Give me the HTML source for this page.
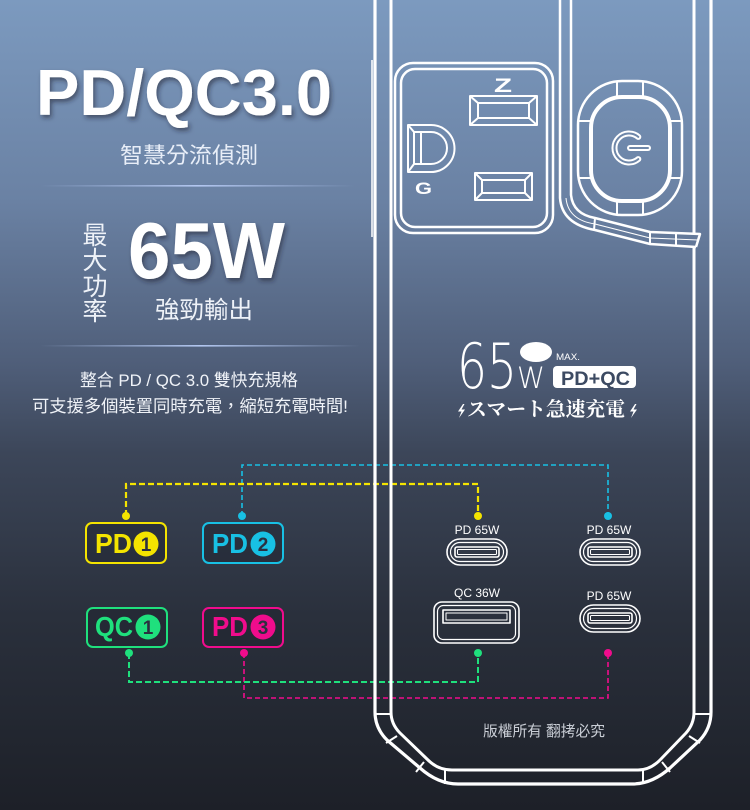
<!DOCTYPE html>
<html><head><meta charset="utf-8">
<style>
html,body{margin:0;padding:0}
body{width:750px;height:810px;overflow:hidden;background:#3c4659}
svg{display:block}
.cjk{font-family:"Liberation Sans","Noto Sans CJK TC",sans-serif}
</style></head><body>
<svg width="750" height="810" viewBox="0 0 750 810" xmlns="http://www.w3.org/2000/svg">
<defs>
<linearGradient id="bg" x1="0" y1="0" x2="0" y2="1">
<stop offset="0" stop-color="#7c9abf"/>
<stop offset="0.25" stop-color="#6a81a3"/>
<stop offset="0.45" stop-color="#4f5e79"/>
<stop offset="0.56" stop-color="#3c4659"/>
<stop offset="0.76" stop-color="#2a303c"/>
<stop offset="1" stop-color="#1d2028"/>
</linearGradient>
<linearGradient id="ln" x1="0" x2="1">
<stop offset="0" stop-color="#a8bde8" stop-opacity="0"/>
<stop offset="0.5" stop-color="#b3c7f0"/>
<stop offset="1" stop-color="#a8bde8" stop-opacity="0"/>
</linearGradient>
<filter id="sh" x="-10%" y="-20%" width="130%" height="150%"><feDropShadow dx="2" dy="3" stdDeviation="2.5" flood-color="#1a2333" flood-opacity="0.55"/></filter>
</defs>
<rect width="750" height="810" fill="url(#bg)"/>

<!-- left text -->
<text x="36" y="115" font-family="Liberation Sans, sans-serif" font-weight="700" font-size="65" fill="#fff" textLength="296" lengthAdjust="spacingAndGlyphs" filter="url(#sh)">PD/QC3.0</text>
<text x="120" y="163" class="cjk" font-size="22" fill="#e8eef8" textLength="138" lengthAdjust="spacingAndGlyphs">智慧分流偵測</text>
<rect x="40" y="185" width="315" height="1.6" fill="url(#ln)"/>

<g class="cjk" font-size="25" fill="#eef2f8" text-anchor="middle">
<text x="95" y="244">最</text>
<text x="95" y="269">大</text>
<text x="95" y="295">功</text>
<text x="95" y="320">率</text>
</g>
<text x="128" y="278" font-family="Liberation Sans, sans-serif" font-weight="700" font-size="80" fill="#fff" textLength="157" lengthAdjust="spacingAndGlyphs" filter="url(#sh)">65W</text>
<text x="155" y="318" class="cjk" font-size="24" fill="#eef2f8" textLength="98" lengthAdjust="spacingAndGlyphs">強勁輸出</text>
<rect x="40" y="345" width="320" height="1.6" fill="url(#ln)"/>

<text x="80" y="386" class="cjk" font-size="17" fill="#f0f3f8" textLength="218" lengthAdjust="spacingAndGlyphs">整合 PD / QC 3.0 雙快充規格</text>
<text x="32" y="412" class="cjk" font-size="17" fill="#f0f3f8" textLength="316" lengthAdjust="spacingAndGlyphs">可支援多個裝置同時充電，縮短充電時間!</text>

<!-- dashed connectors -->
<g fill="none">
<path d="M242,516 V465 H608 V516" stroke="#18c0e4" stroke-width="1.6" stroke-dasharray="5 3"/>
<path d="M126,516 V484 H478 V516" stroke="#f4e400" stroke-width="2.2" stroke-dasharray="6 3"/>
<path d="M244,653 V698 H608 V653" stroke="#f00c8c" stroke-width="1.6" stroke-dasharray="5 3"/>
<path d="M129,653 V682 H478 V653" stroke="#1fe07d" stroke-width="2" stroke-dasharray="6 3"/>
</g>
<g>
<circle cx="126" cy="516" r="4" fill="#f4e400"/><circle cx="478" cy="516" r="4" fill="#f4e400"/>
<circle cx="242" cy="516" r="4" fill="#18c0e4"/><circle cx="608" cy="516" r="4" fill="#18c0e4"/>
<circle cx="129" cy="653" r="4" fill="#1fe07d"/><circle cx="478" cy="653" r="4" fill="#1fe07d"/>
<circle cx="244" cy="653" r="4" fill="#f00c8c"/><circle cx="608" cy="653" r="4" fill="#f00c8c"/>
</g>

<!-- badges -->
<g font-family="Liberation Sans, sans-serif" font-weight="700">
<rect x="86" y="523" width="80" height="40" rx="6" fill="rgba(30,35,46,0.45)" stroke="#f4e400" stroke-width="2"/>
<text x="95" y="553" font-size="28" fill="#f4e400" textLength="37" lengthAdjust="spacingAndGlyphs">PD</text>
<circle cx="146" cy="544" r="12.5" fill="#f4e400"/>
<text x="146" y="551" font-size="19" fill="#2b3040" text-anchor="middle">1</text>

<rect x="203" y="523" width="80" height="40" rx="6" fill="rgba(30,35,46,0.45)" stroke="#18c0e4" stroke-width="2"/>
<text x="212" y="553" font-size="28" fill="#18c0e4" textLength="36" lengthAdjust="spacingAndGlyphs">PD</text>
<circle cx="263" cy="544" r="12.5" fill="#18c0e4"/>
<text x="263" y="551" font-size="19" fill="#2b3040" text-anchor="middle">2</text>

<rect x="87" y="608" width="80" height="39" rx="6" fill="rgba(30,35,46,0.45)" stroke="#1fe07d" stroke-width="2"/>
<text x="95" y="636" font-size="28" fill="#1fe07d" textLength="38" lengthAdjust="spacingAndGlyphs">QC</text>
<circle cx="148" cy="627" r="12.5" fill="#1fe07d"/>
<text x="148" y="634" font-size="19" fill="#2b3040" text-anchor="middle">1</text>

<rect x="203" y="608" width="80" height="39" rx="6" fill="rgba(30,35,46,0.45)" stroke="#f00c8c" stroke-width="2"/>
<text x="212" y="636" font-size="28" fill="#f00c8c" textLength="36" lengthAdjust="spacingAndGlyphs">PD</text>
<circle cx="263" cy="627" r="12.5" fill="#f00c8c"/>
<text x="263" y="634" font-size="19" fill="#2b3040" text-anchor="middle">3</text>
</g>

<!-- device outline -->
<g fill="none" stroke="#fff" stroke-linejoin="round">
<path d="M375,0 V712 Q375,728 387,740 L420,768 Q438,784 458,784 H632 Q652,784 670,768 L700,740 Q711,728 711,712 V0" stroke-width="3.2"/>
<path d="M391,0 V712 Q391,724 400,733 L428,760 Q438,770 452,770 H638 Q650,770 660,760 L686,733 Q694,724 694,712 V247" stroke-width="3"/>
<path d="M694,0 V234" stroke-width="3"/>
<path d="M372,60 V237" stroke-width="1.5"/>
<g stroke-width="2">
<path d="M375,714 H391"/><path d="M694,714 H711"/>
<path d="M386,743 L397,736"/><path d="M416,772 L424,762"/>
<path d="M445,770 V784"/><path d="M643,770 V784"/>
<path d="M700,743 L689,736"/><path d="M670,772 L662,762"/>
</g>
<!-- middle band -->
<path d="M560,0 V198 Q562,224 595,230 L650,244 L696,247" stroke-width="2.5"/>
<path d="M571,0 V195 Q573,214 595,218 L650,232 L700,234 L696,247" stroke-width="2.5"/>
<path d="M566,198 Q568,220 595,224 L650,238 L698,240" stroke-width="1"/>
<path d="M595,218 L594,230 M650,232 V244 M676,233 V246" stroke-width="2"/>

<!-- outlet -->
<rect x="395" y="63" width="158" height="170" rx="18" stroke-width="2.5"/>
<rect x="401" y="69" width="146" height="158" rx="14" stroke-width="2.5"/>
<g stroke-width="2">
<rect x="470" y="96" width="67" height="29"/>
<rect x="478" y="103" width="51" height="15"/>
<path d="M470,96 L478,103 M537,96 L529,103 M470,125 L478,118 M537,125 L529,118"/>
<rect x="475" y="173" width="57" height="27"/>
<rect x="482" y="180" width="43" height="13"/>
<path d="M475,173 L482,180 M532,173 L525,180 M475,200 L482,193 M532,200 L525,193"/>
<path d="M408,125 H431 A23.5,23.5 0 0 1 431,172 H408 Z"/>
<path d="M414,132 H431 A16,16 0 0 1 431,164 H414 Z"/>
<path d="M408,125 L414,132 M408,172 L414,164 M421,132 V164"/>
</g>

<!-- power button -->
<rect x="578" y="81" width="104" height="134" rx="44" stroke-width="2.5"/>
<rect x="591" y="97" width="79" height="104" rx="31" stroke-width="4"/>
<path d="M617,81 V96 M643,81 V96 M617,201 V215 M643,201 V215 M578,121 H591 M578,178 H591 M670,121 H682 M670,178 H682" stroke-width="2"/>
<path d="M638.3,136.9 A14.5,14.5 0 1 0 638.3,159.1" stroke-width="6" stroke-linecap="round"/>
<path d="M638.3,136.9 A14.5,14.5 0 1 0 638.3,159.1" stroke="#6f87a9" stroke-width="2" stroke-linecap="round"/>
<path d="M630,148 H648" stroke-width="6" stroke-linecap="round"/>
<path d="M630,148 H648" stroke="#6f87a9" stroke-width="2" stroke-linecap="round"/>

<!-- ports -->
<g stroke-width="1.6">
<rect x="447" y="539" width="60" height="26" rx="13"/>
<rect x="450.5" y="542.5" width="53" height="19" rx="9.5" stroke-width="1.2"/>
<rect x="455" y="547" width="44" height="10" rx="2"/>
<rect x="457.5" y="549.5" width="39" height="5" rx="1" stroke-width="1"/>

<rect x="580" y="539" width="60" height="26" rx="13"/>
<rect x="583.5" y="542.5" width="53" height="19" rx="9.5" stroke-width="1.2"/>
<rect x="588" y="547" width="44" height="10" rx="2"/>
<rect x="590.5" y="549.5" width="39" height="5" rx="1" stroke-width="1"/>

<rect x="580" y="605" width="60" height="27" rx="13.5"/>
<rect x="583.5" y="608.5" width="53" height="20" rx="10" stroke-width="1.2"/>
<rect x="588" y="613" width="44" height="10" rx="2"/>
<rect x="590.5" y="615.5" width="39" height="5" rx="1" stroke-width="1"/>

<rect x="434" y="602" width="85" height="41" rx="8"/>
<rect x="437.5" y="605.5" width="78" height="34" rx="6" stroke-width="1.2"/>
<rect x="443" y="610" width="67" height="13"/>
<rect x="446" y="613" width="61" height="7" stroke-width="1"/>
</g>
</g>

<!-- outlet letters -->
<text x="494" y="92" font-family="Liberation Sans, sans-serif" font-weight="700" font-size="19" fill="#fff" textLength="18" lengthAdjust="spacingAndGlyphs">Z</text>
<text x="415" y="194" font-family="Liberation Sans, sans-serif" font-weight="700" font-size="17" fill="#fff" textLength="17" lengthAdjust="spacingAndGlyphs">G</text>

<!-- port labels -->
<g font-family="Liberation Sans, sans-serif" font-size="12" fill="#fff" text-anchor="middle">
<text x="477" y="534">PD 65W</text>
<text x="609" y="534">PD 65W</text>
<text x="477" y="597">QC 36W</text>
<text x="609" y="600">PD 65W</text>
</g>

<!-- 65W MAX -->
<text x="457" y="388" font-family="DejaVu Sans, Liberation Sans, sans-serif" font-weight="200" font-size="62" fill="#fff" textLength="60" lengthAdjust="spacingAndGlyphs">65</text>
<text x="517" y="388" font-family="DejaVu Sans, Liberation Sans, sans-serif" font-weight="200" font-size="29" fill="#fff" textLength="28" lengthAdjust="spacingAndGlyphs">W</text>
<ellipse cx="536" cy="352" rx="16" ry="10" fill="#fff"/>
<text x="556" y="360" font-family="Liberation Sans, sans-serif" font-size="9" fill="#fff" textLength="24" lengthAdjust="spacingAndGlyphs">MAX.</text>
<rect x="553" y="366" width="83" height="22" rx="4" fill="#fff"/>
<text x="561" y="385" font-family="Liberation Sans, sans-serif" font-weight="700" font-size="19" fill="#3c4a62" textLength="69" lengthAdjust="spacingAndGlyphs">PD+QC</text>
<polygon points="463,404 458,411.5 461.5,411.5 459,418 465,409.5 461.5,409.5 464.5,404" fill="#fff"/>
<polygon points="635,404 630,411.5 633.5,411.5 631,418 637,409.5 633.5,409.5 636.5,404" fill="#fff"/>
<text x="467" y="416" font-family="Liberation Serif, Noto Serif CJK SC, serif" font-weight="700" font-size="20" fill="#fff" textLength="158" lengthAdjust="spacingAndGlyphs">スマート急速充電</text>

<text x="483" y="736" class="cjk" font-size="15" fill="#c9cdd5" textLength="122" lengthAdjust="spacingAndGlyphs">版權所有 翻拷必究</text>
</svg>
</body></html>
